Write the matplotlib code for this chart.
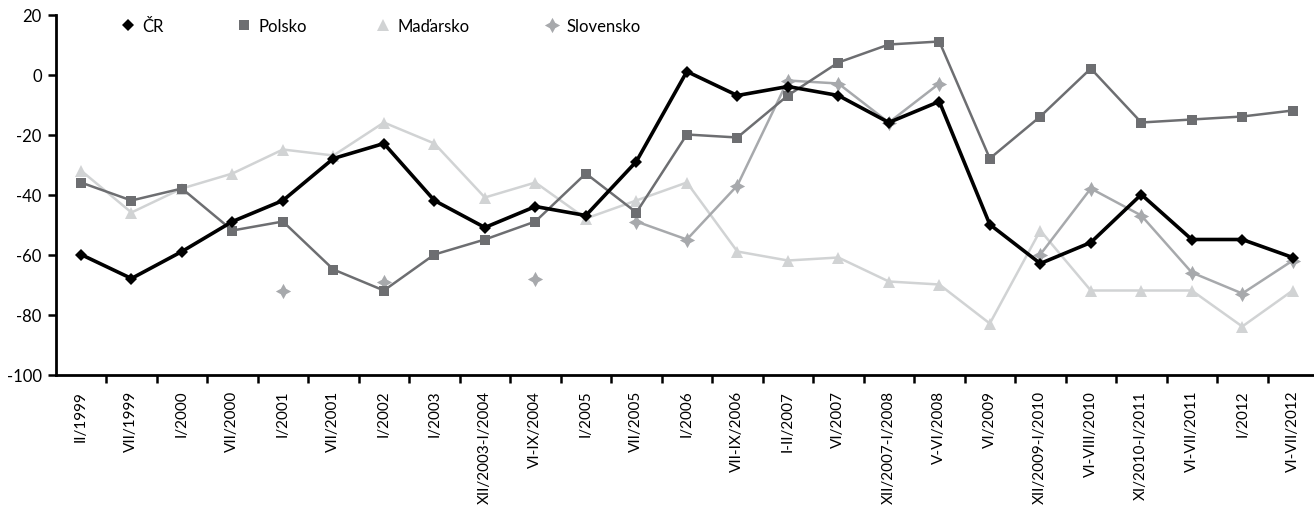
import numpy as np
import matplotlib
matplotlib.use("Agg")
import matplotlib.pyplot as plt

plt.rcParams["font.family"] = ["Lato", "DejaVu Sans"]
plt.rcParams["axes.unicode_minus"] = False

# období šetření
obdobi = ["II/1999", "VII/1999", "I/2000", "VII/2000", "I/2001", "VII/2001",
          "I/2002", "I/2003", "XII/2003-I/2004", "VI-IX/2004", "I/2005",
          "VII/2005", "I/2006", "VII-IX/2006", "I-II/2007", "VI/2007",
          "XII/2007-I/2008", "V-VI/2008", "VI/2009", "XII/2009-I/2010",
          "VI-VIII/2010", "XI/2010-I/2011", "VI-VII/2011", "I/2012", "VI-VII/2012"]

cr = [-60, -68, -59, -49, -42, -28, -23, -42, -51, -44, -47, -29, 1, -7, -4,
      -7, -16, -9, -50, -63, -56, -40, -55, -55, -61]
polsko = [-36, -42, -38, -52, -49, -65, -72, -60, -55, -49, -33, -46, -20, -21,
          -7, 4, 10, 11, -28, -14, 2, -16, -15, -14, -12]
madarsko = [-32, -46, -38, -33, -25, -27, -16, -23, -41, -36, -48, -42, -36, -59,
            -62, -61, -69, -70, -83, -52, -72, -72, -72, -84, -72]
nan = np.nan
slovensko = [nan, nan, nan, nan, -72, nan, -69, nan, nan, -68, nan, -49, -55, -37,
             -2, -3, -16, -3, nan, -60, -38, -47, -66, -73, -62]

x = np.arange(len(obdobi))

fig = plt.figure(figsize=(13.14, 5.10), dpi=100)
ax = fig.add_axes([55.7 / 1314, 134.5 / 510, (1318 - 55.7) / 1314, 360 / 510])

l_hu, = ax.plot(x, madarsko, color="#d1d3d4", lw=1.8, marker="^", ms=8.5,
                markeredgewidth=0, zorder=2)
l_sk, = ax.plot(x, slovensko, color="#a7a9ac", lw=1.8, marker=(4, 1, 0), ms=11,
                markeredgewidth=0, zorder=3)
l_pl, = ax.plot(x, polsko, color="#6d6e71", lw=1.8, marker="s", ms=7,
                markeredgewidth=0, zorder=4)
l_cr, = ax.plot(x, cr, color="black", lw=2.6, marker="D", ms=6.5,
                markeredgewidth=0, zorder=5)

ax.set_xlim(-0.5, len(obdobi) - 0.5)
ax.set_ylim(-100, 20)
ax.set_yticks(np.arange(-100, 21, 20))
ax.set_xticks(x)
ax.set_xticklabels(obdobi, rotation=90, fontsize=11)
ax.set_xticks(np.arange(0.5, len(obdobi), 1), minor=True)
ax.tick_params(axis="x", which="major", length=0, pad=11)
ax.tick_params(axis="x", which="minor", length=6, width=1.8, direction="out")
ax.tick_params(axis="y", length=6, width=1.8, labelsize=12, pad=4)

for s in ["top", "right"]:
    ax.spines[s].set_visible(False)
for s in ["left", "bottom"]:
    ax.spines[s].set_linewidth(2)

# legenda: jen značky, každá položka zvlášť
polozky = [(l_cr, "ČR", 128), (l_pl, "Polsko", 244),
           (l_hu, "Maďarsko", 383), (l_sk, "Slovensko", 552)]
for handle, text, px in polozky:
    leg = fig.legend([handle], [text], loc="center left",
                     bbox_to_anchor=((px - 6.7) / 1314, 1 - 27 / 510),
                     frameon=False, handlelength=0.8, handletextpad=0.45,
                     borderpad=0, borderaxespad=0, fontsize=12)
    for hd in leg.legend_handles:
        hd.set_linestyle("none")

fig.savefig("out.png", dpi=100, facecolor="white")
